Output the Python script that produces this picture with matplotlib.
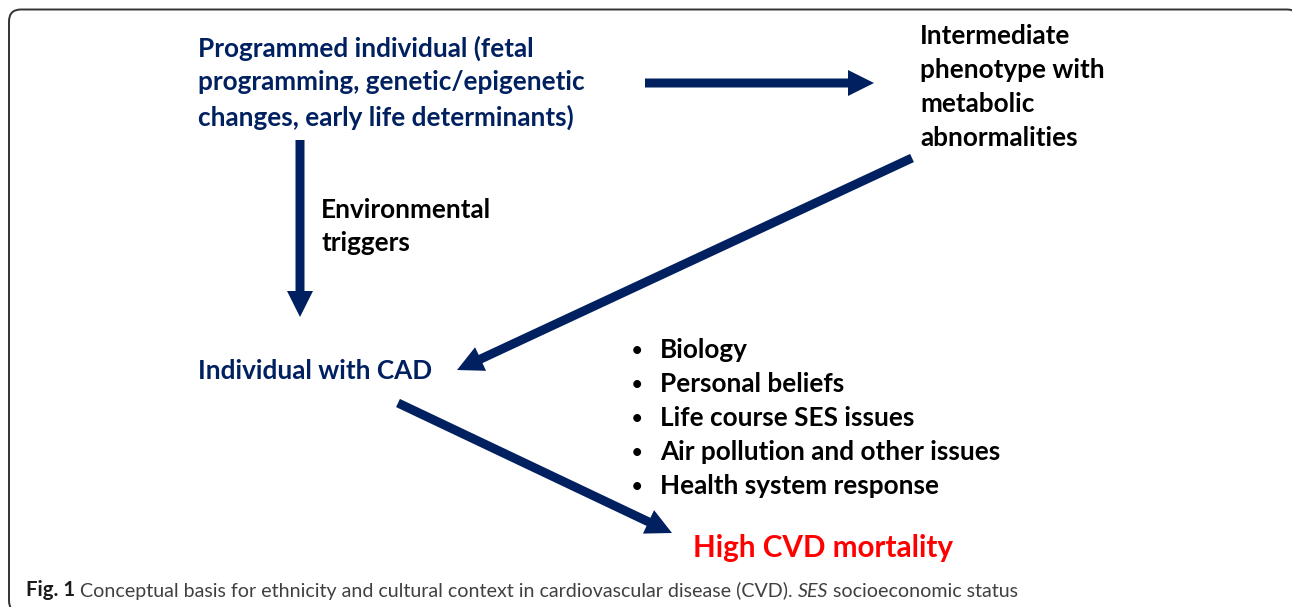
import matplotlib
matplotlib.use("Agg")
import matplotlib.pyplot as plt
from matplotlib.patches import FancyBboxPatch

navy = "#002060"
red = "#ff0000"

programmed = ["Programmed individual (fetal",
              "programming, genetic/epigenetic",
              "changes, early life determinants)"]
intermediate = ["Intermediate", "phenotype with", "metabolic", "abnormalities"]
triggers = ["Environmental", "triggers"]
cad = "Individual with CAD"
factors = ["Biology", "Personal beliefs", "Life course SES issues",
           "Air pollution and other issues", "Health system response"]
outcome = "High CVD mortality"
caption = ["Fig. 1", " Conceptual basis for ethnicity and cultural context in cardiovascular disease (CVD). ",
           "SES", " socioeconomic status"]

# arrows as (x0, y0, x1, y1) in pixel units
arrows = [(645, 83, 874, 83),
          (300, 140, 300, 317),
          (912, 158, 457, 370),
          (398, 403, 672, 533)]

fig = plt.figure(figsize=(12.92, 6.07), dpi=100)
ax = fig.add_axes([0, 0, 1, 1])
ax.set_xlim(0, 1292)
ax.set_ylim(607, 0)
ax.axis("off")

box = FancyBboxPatch((9, 9.5), 1290, 603, boxstyle="round,pad=0,rounding_size=12",
                     fc="white", ec="#333333", lw=1.4)
ax.add_patch(box)

fam = "Lato"
fs = 18.8

for i, s in enumerate(programmed):
    ax.text(198, 48 + 34.5 * i, s, color=navy, fontsize=fs, fontweight="bold",
            family=fam, va="center", ha="left")
for i, s in enumerate(intermediate):
    ax.text(920, 36 + 34 * i, s, color="black", fontsize=fs, fontweight="bold",
            family=fam, va="center", ha="left")
for i, s in enumerate(triggers):
    ax.text(321, 210 + 33 * i, s, color="black", fontsize=fs, fontweight="bold",
            family=fam, va="center", ha="left")
ax.text(198, 371, cad, color=navy, fontsize=fs, fontweight="bold",
        family=fam, va="center", ha="left")
for i, s in enumerate(factors):
    y = 350 + 34 * i
    ax.text(637, y, "\u2022", color="black", fontsize=13, fontweight="bold",
            family=fam, va="center", ha="center")
    ax.text(660, y, s, color="black", fontsize=fs, fontweight="bold",
            family=fam, va="center", ha="left")
ax.text(693, 548, outcome, color=red, fontsize=21.3, fontweight="bold",
        family=fam, va="center", ha="left")

for x0, y0, x1, y1 in arrows:
    ax.arrow(x0, y0, x1 - x0, y1 - y0, width=9, head_width=26, head_length=26,
             length_includes_head=True, fc=navy, ec=navy, lw=0)

# caption built piece by piece
cfs = 14.1
styles = [dict(fontweight="bold", color="#1a1a1a"),
          dict(fontweight="normal", color="#404040"),
          dict(fontweight="normal", style="italic", color="#404040"),
          dict(fontweight="normal", color="#404040")]
prev = ax.text(26, 590, caption[0], fontsize=cfs + 0.6, family=fam, va="center",
               ha="left", **styles[0])
for s, st in zip(caption[1:], styles[1:]):
    prev = ax.annotate(s, xy=(1, 0), xycoords=prev, va="bottom", ha="left",
                       fontsize=cfs, family=fam, **st)

fig.savefig("out.png", dpi=100)
